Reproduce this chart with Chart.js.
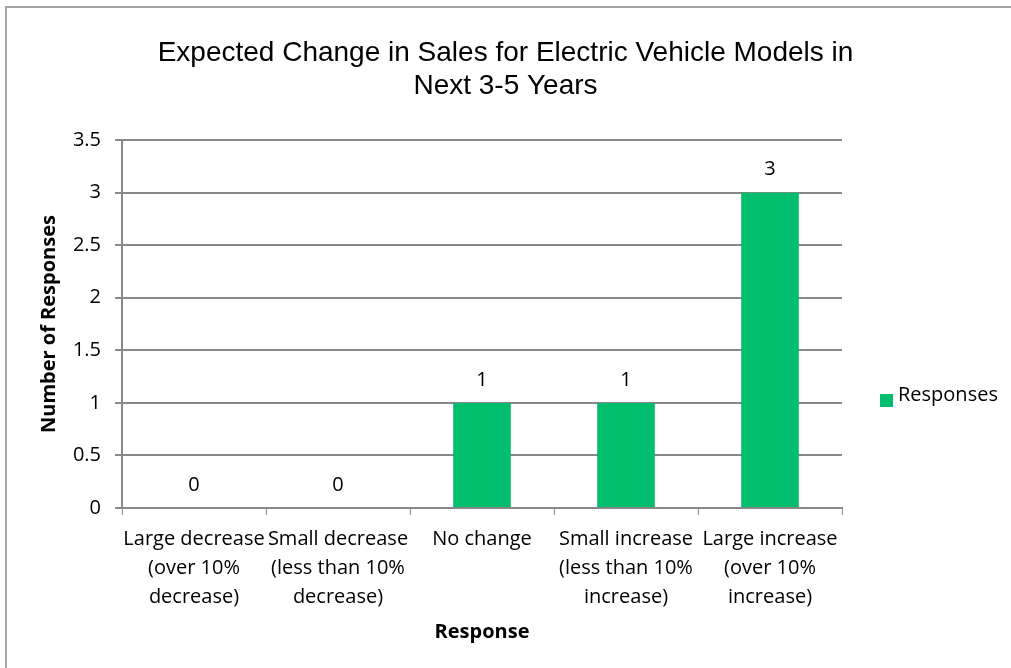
<!DOCTYPE html>
<html>
<head>
<meta charset="utf-8">
<script src="https://cdn.jsdelivr.net/npm/chart.js@4.4.1/dist/chart.umd.min.js"></script>
<style>
  html, body { margin: 0; padding: 0; background: #fff; }
  #wrap { position: relative; width: 1011px; height: 668px; }
</style>
</head>
<body>
<div id="wrap"><canvas id="myChart"></canvas></div>
<script>
const categories = [
    ['Large decrease', '(over 10%', 'decrease)'],
    ['Small decrease', '(less than 10%', 'decrease)'],
    ['No change'],
    ['Small increase', '(less than 10%', 'increase)'],
    ['Large increase', '(over 10%', 'increase)']
];
const responses = [0, 0, 1, 1, 3];
const yTicks = [0, 0.5, 1, 1.5, 2, 2.5, 3, 3.5];

const labelFont = "'Open Sans', sans-serif";
const green = '#00BE6E';

// value labels above bars + frame + legend on the right
const extras = {
    id: 'extras',
    afterDraw(chart) {
        const c = chart.ctx;
        c.save();
        // frame
        c.strokeStyle = '#a6a6a6';
        c.lineWidth = 2;
        c.beginPath();
        c.moveTo(6, 700);
        c.lineTo(6, 7);
        c.lineTo(1020, 7);
        c.stroke();

        // value labels
        c.fillStyle = '#000';
        c.font = '20px ' + labelFont;
        c.textAlign = 'center';
        c.textBaseline = 'middle';
        chart.getDatasetMeta(0).data.forEach((bar, i) => {
            c.fillText(String(chart.data.datasets[0].data[i]), bar.x, bar.y - 23);
        });

        // legend
        const ds = chart.data.datasets[0];
        c.fillStyle = ds.backgroundColor;
        c.fillRect(880, 394, 13, 13);
        c.fillStyle = '#000';
        c.textAlign = 'left';
        c.fillText(ds.label, 898, 395);
        c.restore();
    }
};

let ctx = document.getElementById('myChart').getContext('2d');
let myChart = new Chart(ctx, {
    type: 'bar',
    data: {
        labels: categories,
        datasets: [{
            label: 'Responses',
            data: responses,
            backgroundColor: green,
            borderWidth: 0,
            barPercentage: 0.4,
            categoryPercentage: 1,
            yAxisID: 'y'
        }]
    },
    options: {
        responsive: true,
        maintainAspectRatio: false,
        animation: false,
        layout: { padding: 0 },
        scales: {
            x: {
                afterFit(scale) { scale.height = 160; },
                grid: {
                    offset: true,
                    drawOnChartArea: false,
                    color: '#888',
                    tickLength: 7
                },
                border: { color: '#888', width: 2 },
                ticks: {
                    autoSkip: false,
                    maxRotation: 0,
                    minRotation: 0,
                    color: '#000',
                    padding: 10,
                    font: { family: labelFont, size: 20, lineHeight: 1.45 }
                },
                title: {
                    display: true,
                    text: 'Response',
                    color: '#000',
                    padding: { top: 0, bottom: 24 },
                    font: { family: labelFont, size: 20, weight: 'bold' }
                }
            },
            y: {
                min: 0,
                max: 3.5,
                afterFit(scale) { scale.width = 122; },
                afterBuildTicks(scale) {
                    scale.ticks = yTicks.map(v => ({ value: v }));
                },
                grid: {
                    color: '#888',
                    lineWidth: 2,
                    tickLength: 7
                },
                border: { color: '#888', width: 2 },
                ticks: {
                    color: '#000',
                    padding: 14,
                    font: { family: labelFont, size: 20 },
                    callback: (v) => String(v)
                },
                title: {
                    display: true,
                    text: 'Number of Responses',
                    color: '#000',
                    padding: { top: 37, bottom: 0 },
                    font: { family: labelFont, size: 20, weight: 'bold' }
                }
            },
            legendSpace: {
                position: 'right',
                afterFit(scale) { scale.width = 169; },
                grid: { display: false },
                border: { display: false },
                ticks: { display: false }
            }
        },
        plugins: {
            title: {
                display: true,
                text: ['Expected Change in Sales for Electric Vehicle Models in', 'Next 3-5 Years'],
                color: '#000',
                padding: { top: 37, bottom: 37 },
                font: {
                    family: "'Liberation Sans', Arial, sans-serif",
                    size: 28,
                    weight: 'normal',
                    lineHeight: 1.18
                }
            },
            legend: { display: false },
            tooltip: { enabled: false }
        }
    },
    plugins: [extras]
});
</script>
</body>
</html>
